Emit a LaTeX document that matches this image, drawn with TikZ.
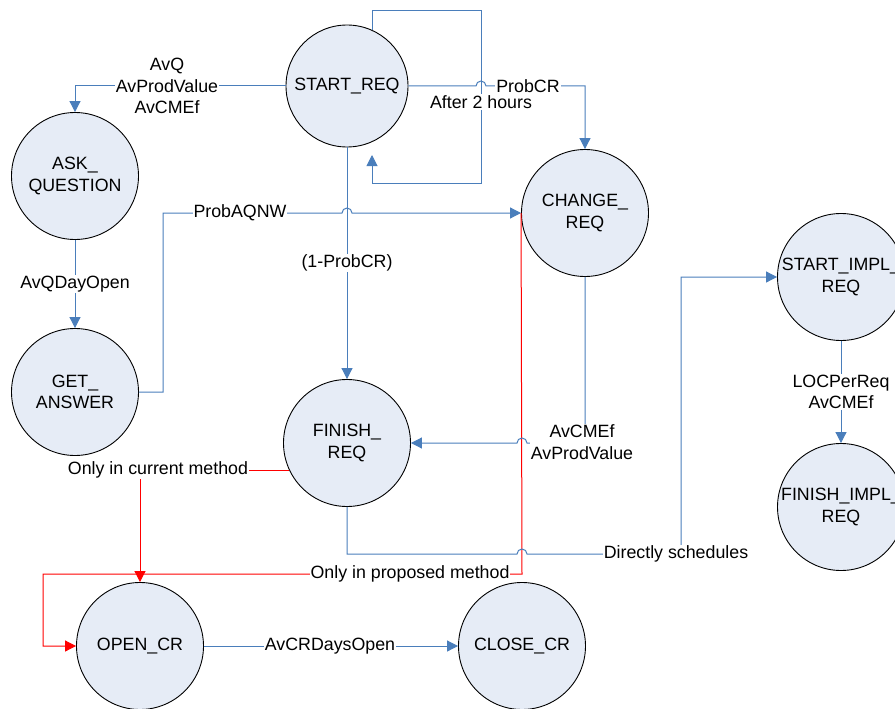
\documentclass[tikz,border=0pt]{standalone}
\usepackage{fontspec}
\setmainfont{Liberation Sans}
\usetikzlibrary{arrows.meta}
\definecolor{lnblue}{HTML}{4A7EBB}
\definecolor{lnred}{HTML}{FF0000}
\definecolor{stfill}{HTML}{E6ECF6}
\newcommand\dfont{\fontsize{17.8}{21.5}\selectfont}
\begin{document}
\begin{tikzpicture}[x=1pt,y=-1pt,
  state/.style={circle,draw=black,line width=0.9pt,fill=stfill,minimum size=127pt,inner sep=0pt,align=center,font=\dfont},
  conn/.style={draw=lnblue,line width=1pt,-{Triangle[length=11pt,width=11pt]}},
  plainconn/.style={draw=lnblue,line width=1pt},
  redconn/.style={draw=lnred,line width=1pt,-{Triangle[length=11pt,width=11pt]}},
  lbl/.style={fill=white,inner sep=1pt,align=center,font=\dfont}]
\useasboundingbox (0,0) rectangle (895,709);

% states
\node[state,minimum size=122pt] (start) at (347,86) {START\_REQ};
\node[state] (ask) at (75,176) {ASK\_\\QUESTION};
\node[state] (get) at (75,392) {GET\_\\ANSWER};
\node[state] (change) at (585,213) {CHANGE\_\\REQ};
\node[state] (finish) at (347,443) {FINISH\_\\REQ};
\node[state] (simpl) at (841,277) {START\_IMPL\_\\REQ};
\node[state] (fimpl) at (841,507) {FINISH\_IMPL\_\\REQ};
\node[state] (open) at (140,646) {OPEN\_CR};
\node[state] (close) at (522,646) {CLOSE\_CR};

\coordinate (loopend) at (372,155);

% connectors
\draw[conn] (start.west) -| (ask.north);
\draw[conn] (start.65.8) |- (481,11) |- (372,183) -- (loopend);
\draw[conn] (start.east) -- (476,86) arc[start angle=180,end angle=0,radius=5pt] -- (585,86) -- (change.north);
\draw[conn] (start.south) -- (finish.north);
\draw[conn] (get.east) -- (163,392) -- (163,213) -- (342,213) arc[start angle=180,end angle=0,radius=5pt] -- (change.west);
\draw[conn] (ask.south) -- (get.north);
\draw[redconn] (change.west) -- (522,574) -- (43,574) |- (open.west);
\draw[conn] (change.south) -- (585,443) -- (527,443) arc[start angle=0,end angle=180,radius=5pt] -- (finish.east);
\draw[redconn] (finish.205) -| (open.north);
\draw[conn] (finish.south) -- (347,554) -- (517,554) arc[start angle=180,end angle=0,radius=5pt] -- (681,554) |- (simpl.west);
\draw[conn] (simpl.south) -- (fimpl.north);
\draw[conn] (open.east) -- (close.west);

% labels
\node[lbl] (l1) at (167,86) {AvQ\\AvProdValue\\AvCMEf};
\node[lbl] (l2) at (481,102) {After 2 hours};
\node[lbl] (l3) at (528,86) {ProbCR};
\node[lbl] (l4) at (240,213) {ProbAQNW};
\node[lbl] (l5) at (347,263) {(1-ProbCR)};
\node[lbl] (l6) at (75,284) {AvQDayOpen};
\node[lbl] (l7) at (582,442) {AvCMEf\\AvProdValue};
\node[lbl] (l8) at (841,392) {LOCPerReq\\AvCMEf};
\node[lbl] (l9) at (158,470) {Only in current method};
\node[lbl] (l10) at (410,574) {Only in proposed method};
\node[lbl] (l11) at (676,554) {Directly schedules};
\node[lbl] (l12) at (330,646) {AvCRDaysOpen};
\end{tikzpicture}
\end{document}
